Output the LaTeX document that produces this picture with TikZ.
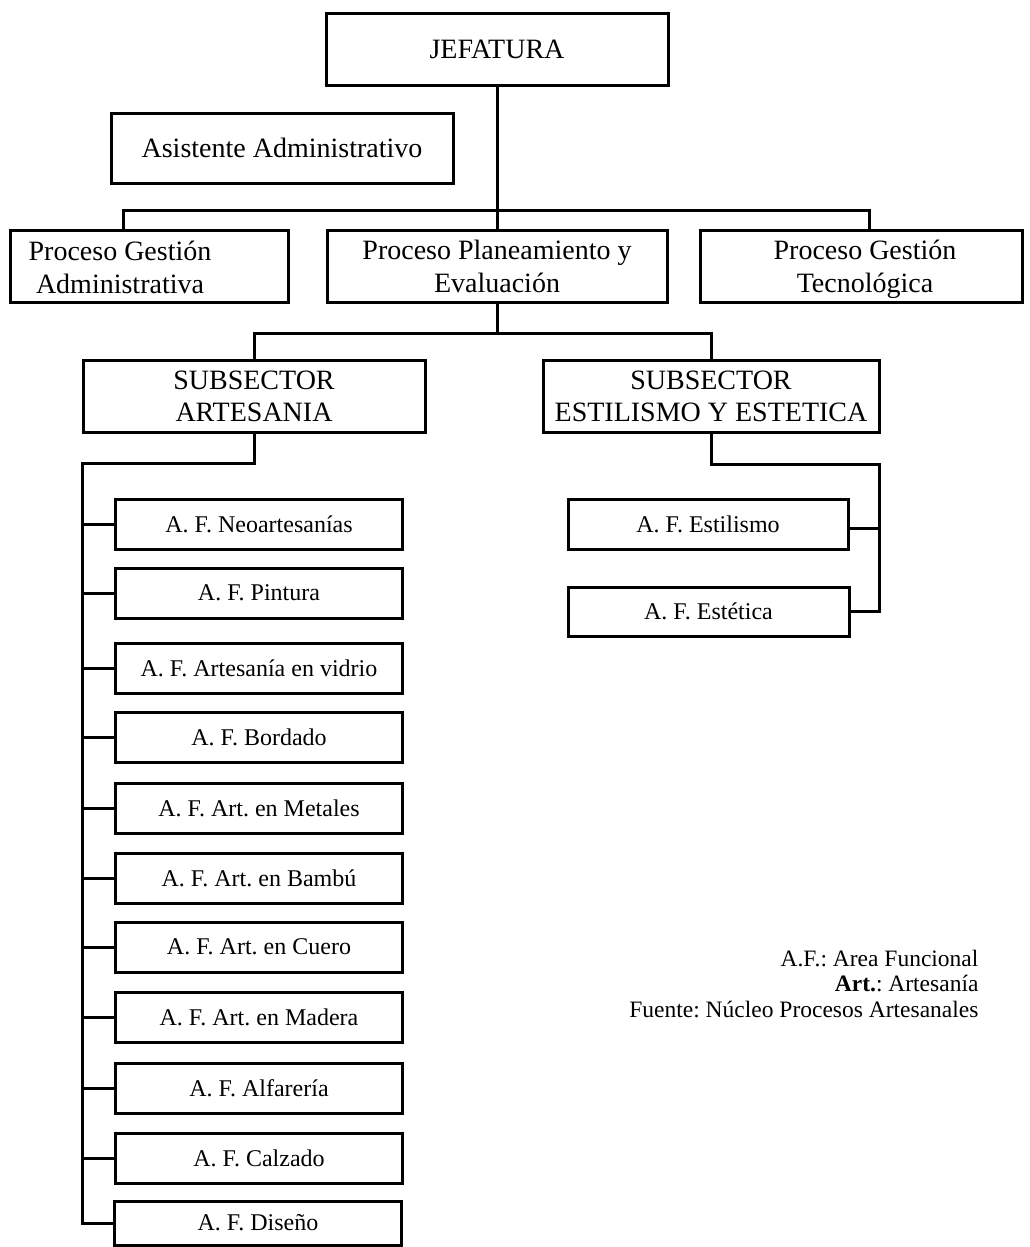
\documentclass[tikz,border=0pt]{standalone}
\usepackage{fontspec}
\setmainfont{Liberation Serif}
\frenchspacing
\begin{document}
\frenchspacing
\begin{tikzpicture}[x=1pt,y=-1pt,
  box/.style={draw, line width=3pt, inner sep=0pt, align=center},
  big/.style={font=\frenchspacing\fontsize{28}{33}\selectfont},
  small/.style={font=\frenchspacing\fontsize{24}{26}\selectfont},
  conn/.style={line width=3pt}]
\useasboundingbox (0,0) rectangle (1030,1247);
% top level
\node[box,big,minimum width=342,minimum height=71] (jef) at (497,49.5) {JEFATURA};
\node[box,big,minimum width=342,minimum height=70] (asis) at (282,148) {Asistente Administrativo};
\node[box,minimum width=278,minimum height=72] (pga) at (149,266) {};
\node[big,align=center] (pgat) at (120,267) {Proceso Gestión\\Administrativa};
\node[box,big,minimum width=340,minimum height=72] (pp) at (497,266) {Proceso Planeamiento y\\Evaluación};
\node[box,minimum width=322,minimum height=72] (pgt) at (861,266) {};
\node[big,align=center] (pgtt) at (865,269) {Proceso Gestión\\Tecnológica};
% subsectors
\node[box,minimum width=342,minimum height=72,font=\fontsize{28}{32}\selectfont] (sa) at (254,396) {SUBSECTOR\\ARTESANIA};
\node[box,minimum width=336,minimum height=72,font=\fontsize{28}{32}\selectfont] (se) at (711,396) {SUBSECTOR\\ESTILISMO Y ESTETICA};
% artesania areas
\foreach \n/\y/\t in {d1/524/{A. F. Neoartesanías}, d2/593/{A. F. Pintura}, d3/668/{A. F. Artesanía en vidrio}, d4/737/{A. F. Bordado}, d5/808/{A. F. Art. en Metales}, d6/878/{A. F. Art. en Bambú}, d7/947/{A. F. Art. en Cuero}, d8/1017/{A. F. Art. en Madera}, d9/1088/{A. F. Alfarería}, d10/1158/{A. F. Calzado}}
  \node[box,small,minimum width=287,minimum height=50] (\n) at (259,\y) {\t};
\node[box,small,minimum width=287,minimum height=44] (d11) at (258,1223) {A. F. Diseño};
% estilismo areas
\node[box,small,minimum width=280,minimum height=50] (fs) at (708,524) {A. F. Estilismo};
\node[box,small,minimum width=281,minimum height=49] (fe) at (708.5,611.5) {A. F. Estética};
% legend
\node[align=right,anchor=east,font=\frenchspacing\fontsize{23.5}{25.5}\selectfont] (leg) at (982,984) {A.F.: Area Funcional\\\textbf{Art.}: Artesanía\\Fuente: Núcleo Procesos Artesanales};
% connectors
\coordinate (bus1) at (497,210);
\coordinate (bus2) at (497,333);
\coordinate (sp) at (82,463);
\coordinate (rc) at (879,464);
\draw[conn] (jef.south) -- (pp.north);
\draw[conn] ([xshift=-26pt]pga.north) |- (bus1) -| ([xshift=8pt]pgt.north);
\draw[conn] (pp.south) -- (bus2);
\draw[conn] (sa.north) |- (bus2) -| (se.north);
\draw[conn] (sa.south) |- (sp) |- (d11.west);
\foreach \n in {d1,d2,d3,d4,d5,d6,d7,d8,d9,d10}
  \draw[conn] (\n.west) -- (\n.west -| sp);
\draw[conn] (se.south) |- (rc) |- (fe.east);
\draw[conn] ([yshift=-4pt]fs.east) -- ([yshift=-4pt]fs.east -| rc);
\end{tikzpicture}
\end{document}
